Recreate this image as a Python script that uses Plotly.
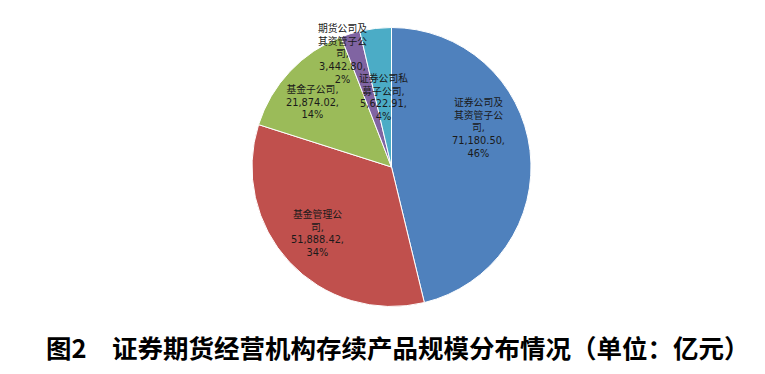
import plotly.graph_objects as go

categories = ["证券公司及其资管子公司", "基金管理公司", "基金子公司", "期货公司及其资管子公司", "证券公司私募子公司"]
values = [71180.50, 51888.42, 21874.02, 3442.80, 5622.91]
percents = ["46%", "34%", "14%", "2%", "4%"]
label_lines = [
    ["证券公司及", "其资管子公", "司,"],
    ["基金管理公", "司,"],
    ["基金子公司,"],
    ["期货公司及", "其资管子公", "司,"],
    ["证券公司私", "募子公司,"],
]
colors = ["#4F81BD", "#C0504D", "#9BBB59", "#8064A2", "#4BACC6"]

W, H = 765, 374
OFF = 8  # page body margin
# label centre positions in page pixels (layout only)
label_pos = [(478, 128), (317, 233), (312, 101), (342, 53), (383, 97)]
cx, cy, r = 391.5 - OFF, 167 - OFF, 139.5

fig = go.Figure()
fig.add_trace(go.Pie(
    labels=categories, values=values, sort=False, direction="clockwise",
    rotation=0, marker=dict(colors=colors, line=dict(color="white", width=1)),
    textinfo="none", hoverinfo="label+value+percent", showlegend=False,
    domain=dict(x=[(cx - r) / W, (cx + r) / W], y=[1 - (cy + r) / H, 1 - (cy - r) / H]),
))

for lines, v, p, (px, py) in zip(label_lines, values, percents, label_pos):
    txt = "<br>".join(lines + [f"{v:,.2f},", p])
    fig.add_annotation(x=(px - OFF) / W, y=1 - (py - OFF) / H, xref="paper", yref="paper",
                       text=txt, showarrow=False, xanchor="center", yanchor="middle",
                       font=dict(family="DejaVu Sans, Noto Sans CJK SC", size=9.8, color="#1a1a1a"),
                       align="center")

fig.add_annotation(x=(398 - OFF) / W, y=1 - (346 - OFF) / H, xref="paper", yref="paper",
                   text="<b>图2\u2003证券期货经营机构存续产品规模分布情况（单位：亿元）</b>",
                   showarrow=False, xanchor="center", yanchor="middle",
                   font=dict(family="Noto Sans CJK SC", size=25.5, color="black"))

fig.update_layout(width=W, height=H, margin=dict(l=0, r=0, t=0, b=0),
                  paper_bgcolor="white", plot_bgcolor="white")
fig.write_html("out.html")
